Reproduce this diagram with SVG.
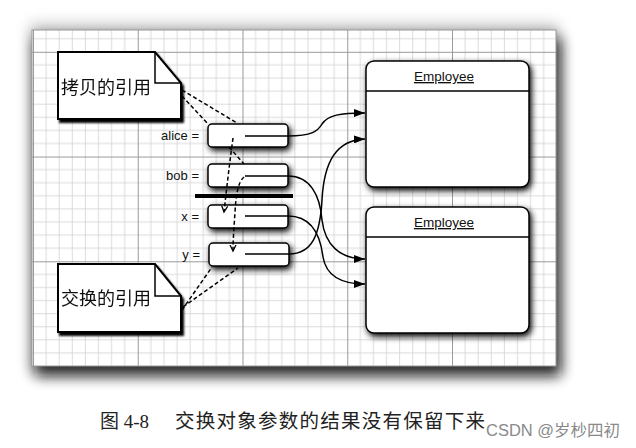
<svg xmlns="http://www.w3.org/2000/svg" width="636" height="448" viewBox="0 0 636 448">
<style>
.lbl{font-family:"Liberation Sans",Arial,sans-serif;font-size:13px;fill:#111}
.note{font-family:"Noto Sans CJK SC",sans-serif;font-size:18px;fill:#111}
.emp{font-family:"Liberation Sans",Arial,sans-serif;font-size:13.5px;fill:#111;text-decoration:underline}
.box{fill:#fff;stroke:#000;stroke-width:1.5}
.conn{fill:none;stroke:#000;stroke-width:1.5}
.dash{fill:none;stroke:#000;stroke-width:1.5;stroke-dasharray:4 2.5}
</style>
<defs>
<pattern id="grid" patternUnits="userSpaceOnUse" x="33" y="51.8" width="104.75" height="104.75">
<path d="M13.09,0V104.75M26.19,0V104.75M39.28,0V104.75M52.38,0V104.75M65.47,0V104.75M78.56,0V104.75M91.66,0V104.75M0,13.09H104.75M0,26.19H104.75M0,39.28H104.75M0,52.38H104.75M0,65.47H104.75M0,78.56H104.75M0,91.66H104.75" stroke="#d2d2d2" stroke-width="0.8" fill="none"/>
<path d="M0.5,0V104.75M0,0.5H104.75" stroke="#9a9a9a" stroke-width="1" fill="none"/>
</pattern>
<filter id="panelShadow" x="-10%" y="-15%" width="120%" height="130%">
<feGaussianBlur stdDeviation="7"/>
</filter>
<filter id="sh" x="-30%" y="-50%" width="160%" height="200%">
<feGaussianBlur in="SourceAlpha" stdDeviation="3" result="b"/>
<feOffset in="b" dx="2" dy="3" result="o"/>
<feComponentTransfer in="o" result="s"><feFuncA type="linear" slope="1"/></feComponentTransfer>
<feMerge><feMergeNode in="s"/><feMergeNode in="SourceGraphic"/></feMerge>
</filter>
<filter id="shn" x="-10%" y="-10%" width="130%" height="130%">
<feGaussianBlur in="SourceAlpha" stdDeviation="1.2" result="b"/>
<feOffset in="b" dx="2" dy="2.5" result="o"/>
<feMerge><feMergeNode in="o"/><feMergeNode in="SourceGraphic"/></feMerge>
</filter>
<marker id="arr" markerUnits="userSpaceOnUse" markerWidth="11" markerHeight="8" refX="11" refY="4" orient="auto">
<path d="M0,0 L11,4 L0,8 Z" fill="#000"/>
</marker>
<marker id="open" markerUnits="userSpaceOnUse" markerWidth="8" markerHeight="8" refX="6" refY="3.5" orient="auto">
<path d="M0,0.5 L6,3.5 L0,6.5" fill="none" stroke="#000" stroke-width="1.3"/>
</marker>
</defs>

<rect width="636" height="448" fill="#fff"/>

<g id="panel">
<rect x="30" y="24" width="528" height="348" fill="#888" opacity="0.5" filter="url(#panelShadow)"/>
<rect x="35" y="38" width="526" height="338" fill="#111" opacity="0.85" filter="url(#panelShadow)"/>
<rect x="32" y="30" width="524" height="336" fill="#fff"/>
<rect x="32" y="30" width="524" height="336" fill="url(#grid)" stroke="#999" stroke-width="1"/>
</g>

<g id="note-copy" filter="url(#shn)">
<path d="M58,52 H155 L181,83 V119 H58 Z" fill="#fff" stroke="#000" stroke-width="2"/>
<path d="M155,52 V83 H181" fill="none" stroke="#000" stroke-width="1.5"/>
<text class="note" x="61" y="94">拷贝的引用</text>
</g>

<g id="note-swap" filter="url(#shn)">
<path d="M58,264 H155 L181,296 V332 H58 Z" fill="#fff" stroke="#000" stroke-width="2"/>
<path d="M155,264 V296 H181" fill="none" stroke="#000" stroke-width="1.5"/>
<text class="note" x="61" y="305">交换的引用</text>
</g>

<g id="box-alice">
<text class="lbl" x="199" y="140" text-anchor="end">alice =</text>
<rect class="box" x="208" y="124" width="80" height="23" rx="4" filter="url(#sh)"/>
</g>
<g id="box-bob">
<text class="lbl" x="199" y="180" text-anchor="end">bob =</text>
<rect class="box" x="208" y="164" width="80" height="23" rx="4" filter="url(#sh)"/>
</g>
<g id="box-x">
<text class="lbl" x="199" y="221" text-anchor="end">x =</text>
<rect class="box" x="208" y="205" width="80" height="23" rx="4" filter="url(#sh)"/>
</g>
<g id="box-y">
<text class="lbl" x="200" y="259" text-anchor="end">y =</text>
<rect class="box" x="209" y="243" width="80" height="23" rx="4" filter="url(#sh)"/>
</g>

<g id="employee-1">
<rect class="box" x="366" y="61" width="163" height="126" rx="8" filter="url(#sh)"/>
<line x1="366" y1="91" x2="529" y2="91" stroke="#000" stroke-width="1.3"/>
<text class="emp" x="444" y="81" text-anchor="middle">Employee</text>
</g>
<g id="employee-2">
<rect class="box" x="366" y="207" width="163" height="126" rx="8" filter="url(#sh)"/>
<line x1="366" y1="237" x2="529" y2="237" stroke="#000" stroke-width="1.3"/>
<text class="emp" x="444" y="227" text-anchor="middle">Employee</text>
</g>

<g id="bar">
<line x1="195" y1="196" x2="293" y2="196" stroke="#000" stroke-width="4"/>
</g>

<g id="connectors">
<path class="conn" d="M245,136 L288,136 C312,136 318,131 322,124 C328,115 340,113 365,113" marker-end="url(#arr)"/>
<path class="conn" d="M245,176 L288,176 C310,176 320,195 322,220 C325,245 340,259 365,259" marker-end="url(#arr)"/>
<path class="conn" d="M245,216 L288,216 C310,216 320,232 323,257 C326,275 340,284 365,284" marker-end="url(#arr)"/>
<path class="conn" d="M245,254 L289,254 C312,254 320,235 322,200 C324,162 336,140 365,139" marker-end="url(#arr)"/>
<path class="dash" d="M182,90 L237,123"/>
<path class="dash" d="M182,96 L208,124"/>
<path class="dash" d="M229,147 L244,164"/>
<path class="dash" d="M233,138 C230,160 227,185 224,212" marker-end="url(#open)"/>
<path class="dash" d="M244,177 C238,182 236,195 235,212 C234,228 233,240 233,251" marker-end="url(#open)"/>
<path class="dash" d="M182,310 L212,267"/>
<path class="dash" d="M183,307 L238,268"/>
</g>

<g id="caption">
<text x="100" y="428" font-family="'Liberation Serif','Noto Sans CJK SC',serif" font-size="19" fill="#222">图 4-8</text>
<text x="175" y="428" font-family="'Liberation Serif','Noto Sans CJK SC',serif" font-size="19.5" fill="#222" textLength="310" lengthAdjust="spacing">交换对象参数的结果没有保留下来</text>
<text x="486" y="436" font-family="'Liberation Sans','Noto Sans CJK SC',sans-serif" font-size="16" fill="#8a8a8a" textLength="134" lengthAdjust="spacingAndGlyphs">CSDN @岁杪四初</text>
</g>
</svg>
